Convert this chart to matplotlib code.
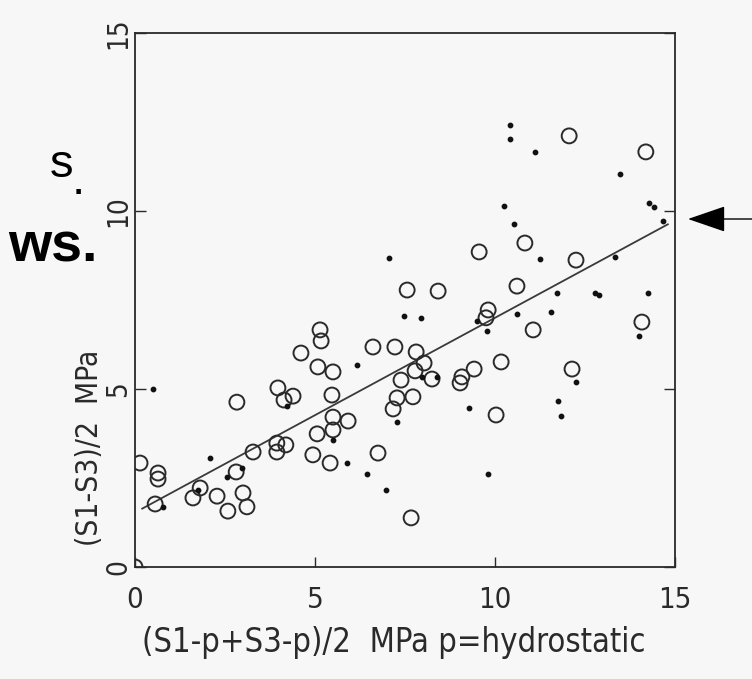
import matplotlib
matplotlib.use('Agg')
import matplotlib.pyplot as plt
import numpy as np

# open circles
circ_x = [0.0, 0.14, 0.64, 0.64, 0.56, 1.81, 1.61, 2.28, 2.58, 3.0, 3.11, 2.81, 2.83,
          3.28, 3.94, 3.94, 4.19, 3.97, 4.14, 4.39, 4.61, 5.14, 5.17, 5.08, 5.5, 5.47,
          5.06, 4.94, 5.42, 5.5, 5.92, 5.5, 6.75, 7.67, 6.61, 7.22, 7.81, 8.03, 7.78,
          8.25, 7.39, 7.28, 7.72, 7.17, 9.42, 9.08, 9.03, 10.17, 10.03, 9.81, 9.75,
          11.06, 12.14, 14.08, 12.25, 10.61, 10.83, 9.56, 7.56, 8.42, 12.06, 14.19]
circ_y = [0.0, 2.92, 2.64, 2.47, 1.77, 2.22, 1.94, 1.99, 1.57, 2.08, 1.69, 2.67, 4.63,
          3.23, 3.48, 3.23, 3.43, 5.03, 4.69, 4.80, 6.01, 6.66, 6.35, 5.62, 5.48, 4.83,
          3.74, 3.15, 2.92, 4.21, 4.10, 3.85, 3.20, 1.38, 6.18, 6.18, 6.04, 5.73, 5.51,
          5.28, 5.25, 4.75, 4.78, 4.44, 5.56, 5.34, 5.17, 5.76, 4.27, 7.22, 7.0,
          6.66, 5.56, 6.88, 8.62, 7.89, 9.10, 8.85, 7.78, 7.75, 12.11, 11.66]

# small filled dots
dot_x = [0.5, 0.78, 1.75, 2.08, 2.97, 2.56, 4.22, 5.5, 5.89, 6.44, 6.97, 7.28, 6.17,
         7.97, 8.39, 7.47, 7.94, 9.28, 9.81, 9.5, 9.78, 10.61, 7.06, 10.42, 10.42,
         10.25, 10.53, 11.11, 13.47, 14.28, 14.42, 14.67, 11.25, 13.33, 11.72, 12.78,
         12.9, 14.25, 11.56, 14.0, 12.25, 11.75, 11.83]
dot_y = [5.0, 1.69, 2.16, 3.06, 2.78, 2.53, 4.52, 3.57, 2.92, 2.61, 2.16, 4.07, 5.67,
         5.34, 5.34, 7.05, 6.99, 4.47, 2.61, 6.91, 6.63, 7.11, 8.68, 12.42, 12.02,
         10.14, 9.63, 11.66, 11.04, 10.22, 10.11, 9.72, 8.65, 8.71, 7.70, 7.69,
         7.65, 7.70, 7.16, 6.49, 5.20, 4.66, 4.24]

# fitted line
fit_slope = 0.547
fit_icept = 1.53
fit_range = [0.2, 14.8]

ticks = [0, 5, 10, 15]
xlabel = '(S1-p+S3-p)/2  MPa p=hydrostatic'
ylabel = '(S1-S3)/2  MPa'

fnt = dict(family='DejaVu Sans', stretch='condensed', color='#2a2a2a')
ink = '#2a2a2a'

fig = plt.figure(figsize=(7.52, 6.79), dpi=100, facecolor='#f7f7f7')
ax = fig.add_axes([135 / 752, 1 - 567 / 679, 540 / 752, 534 / 679])
ax.set_facecolor('#f7f7f7')

ax.scatter(circ_x, circ_y, s=115, facecolors='none', edgecolors=ink, linewidths=1.4, zorder=3)
ax.scatter(dot_x, dot_y, s=10, color='#111111', zorder=3)

lx = np.array(fit_range)
ax.plot(lx, fit_slope * lx + fit_icept, color='#3a3a3a', lw=1.3, zorder=2)

ax.set_xlim(0, 15)
ax.set_ylim(0, 15)
ax.set_xticks(ticks)
ax.set_yticks(ticks)
ax.set_xticklabels([str(t) for t in ticks], fontsize=21, **fnt)
ax.set_yticklabels([str(t) for t in ticks], fontsize=20, rotation=90, va='center', **fnt)
ax.tick_params(axis='x', direction='in', length=7, width=1, color=ink, pad=14)
ax.tick_params(axis='y', direction='in', length=8, width=1, color=ink, pad=2,
               right=True)
for sp in ax.spines.values():
    sp.set_color(ink)
    sp.set_linewidth(1.3)

ax.text(0.48, -0.142, xlabel, transform=ax.transAxes, ha='center', va='center',
        fontsize=23.5, **fnt)
ax.text(-0.085, 0.223, ylabel, transform=ax.transAxes, ha='center', va='center',
        rotation=90, fontsize=21.5, **fnt)

# fragments of surrounding page text
fig.text(50 / 752, 1 - 165 / 679, 's', fontsize=34, family='Liberation Sans', va='center')
fig.text(72 / 752, 1 - 182 / 679, '.', fontsize=34, family='Liberation Sans', va='center')
fig.text(8 / 752, 1 - 247 / 679, 'ws.', fontsize=40, family='Liberation Sans',
         weight='bold', va='center')

ax.annotate('', xy=(688 / 752, 1 - 219 / 679), xytext=(1.0, 1 - 219 / 679),
            xycoords='figure fraction', textcoords='figure fraction',
            arrowprops=dict(arrowstyle='-|>,head_length=1.6,head_width=0.55',
                            mutation_scale=15, lw=1, color='black',
                            shrinkA=0, shrinkB=0))

fig.savefig('out.png', dpi=100, facecolor=fig.get_facecolor())
